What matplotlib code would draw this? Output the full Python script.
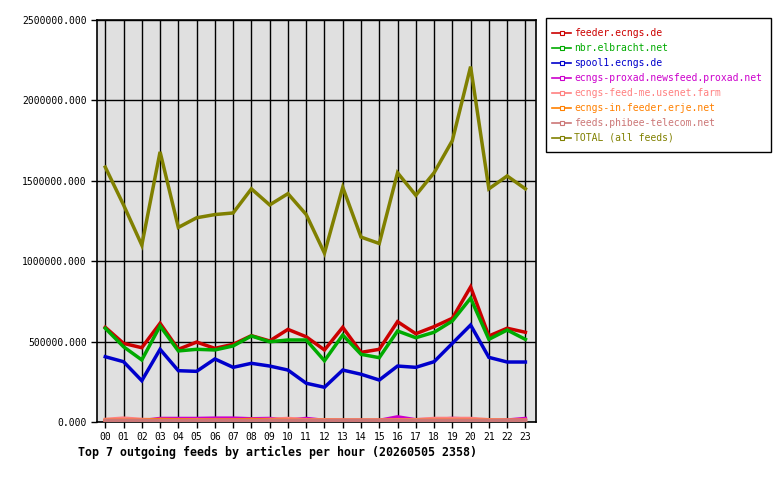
import matplotlib
matplotlib.use("Agg")
import matplotlib.pyplot as plt
from matplotlib.patches import Rectangle
from matplotlib.lines import Line2D
import numpy as np

hours = ["%02d" % h for h in range(24)]

feeder = [589, 489, 462, 614, 452, 497, 458, 483, 537, 504, 576, 530,
          448, 589, 433, 452, 624, 549, 593, 645, 840, 535, 583, 558]
nbr = [583, 468, 386, 597, 442, 452, 448, 473, 535, 499, 510, 510,
       381, 541, 421, 400, 566, 524, 558, 628, 770, 514, 572, 514]
spool1 = [406, 375, 257, 452, 319, 315, 392, 340, 365, 348, 323, 241,
          216, 323, 297, 261, 348, 340, 375, 489, 603, 402, 373, 373]
proxad = [8, 8, 8, 22, 22, 22, 24, 24, 20, 22, 12, 22,
          10, 10, 10, 10, 32, 14, 16, 22, 18, 8, 12, 22]
feedme = [16, 24, 16, 14, 14, 14, 12, 12, 14, 16, 22, 14,
          14, 12, 12, 12, 14, 14, 22, 22, 22, 14, 12, 12]
erje = [10, 10, 10, 16, 14, 12, 12, 12, 16, 12, 10, 10,
        10, 10, 10, 10, 10, 10, 10, 10, 10, 10, 10, 10]
phibee = [12, 12, 12, 12, 12, 12, 12, 12, 12, 12, 12, 12,
          12, 12, 12, 12, 12, 12, 12, 12, 12, 12, 12, 12]
total = [1585, 1350, 1100, 1680, 1210, 1270, 1290, 1300, 1450, 1350, 1420, 1290,
         1050, 1460, 1150, 1110, 1550, 1410, 1550, 1750, 2210, 1450, 1530, 1450]

series = [
    ("feeder.ecngs.de", feeder, "#cc0000"),
    ("nbr.elbracht.net", nbr, "#00aa00"),
    ("spool1.ecngs.de", spool1, "#0000cc"),
    ("ecngs-proxad.newsfeed.proxad.net", proxad, "#cc00cc"),
    ("ecngs-feed-me.usenet.farm", feedme, "#ff8080"),
    ("ecngs-in.feeder.erje.net", erje, "#ff8000"),
    ("feeds.phibee-telecom.net", phibee, "#cc7777"),
    ("TOTAL (all feeds)", total, "#808000"),
]

W, H = 780, 480
mono = "DejaVu Sans Mono"
fig = plt.figure(figsize=(7.8, 4.8), dpi=100)
ax = fig.add_axes([96.5 / W, 1 - 422 / H, (536 - 96.5) / W, (422 - 20) / H])
ax.set_facecolor("#e0e0e0")

x = np.arange(24)
for name, vals, col in series:
    y = np.array(vals, dtype=float) * 1000
    ax.plot(x, y, color=col, lw=2.5, solid_joinstyle="miter", zorder=3)

ax.set_xlim(-0.48, 23.58)
ax.set_ylim(0, 2500000)
ax.set_xticks(x)
ax.set_xticklabels(hours, fontfamily=mono, fontsize=7)
yt = np.arange(0, 2500001, 500000)
ax.set_yticks(yt)
ax.set_yticklabels(["%.3f" % v for v in yt], fontfamily=mono, fontsize=7)
ax.grid(True, color="black", lw=1, zorder=1)
ax.set_axisbelow(True)
ax.tick_params(direction="out", length=4, width=1, color="black", pad=3)
for s in ax.spines.values():
    s.set_color("black")
    s.set_linewidth(1.2)

# legend box drawn in figure pixel coordinates
def fx(px):
    return px / W

def fy(py):
    return 1 - py / H

fig.add_artist(Rectangle((fx(546), fy(152)), fx(771) - fx(546), fy(18) - fy(152),
                         transform=fig.transFigure, facecolor="white",
                         edgecolor="black", lw=1.0, zorder=5))
for i, (name, vals, col) in enumerate(series):
    yy = 33 + 15 * i
    fig.add_artist(Line2D([fx(552), fx(571)], [fy(yy), fy(yy)], color=col, lw=1.2,
                          transform=fig.transFigure, zorder=6))
    fig.add_artist(Line2D([fx(561.5)], [fy(yy)], color=col, marker="s",
                          markersize=2.5, markerfacecolor="white",
                          markeredgecolor=col, markeredgewidth=0.8,
                          transform=fig.transFigure, zorder=7))
    fig.text(fx(574), fy(yy), name, color=col, fontfamily=mono, fontsize=7,
             va="center", ha="left", zorder=7)

fig.text(78 / W, 1 - 452 / H, "Top 7 outgoing feeds by articles per hour (20260505 2358)",
         fontfamily=mono, fontsize=8.4, fontweight="bold", va="center", ha="left")

fig.savefig("out.png", dpi=100, facecolor="white")
